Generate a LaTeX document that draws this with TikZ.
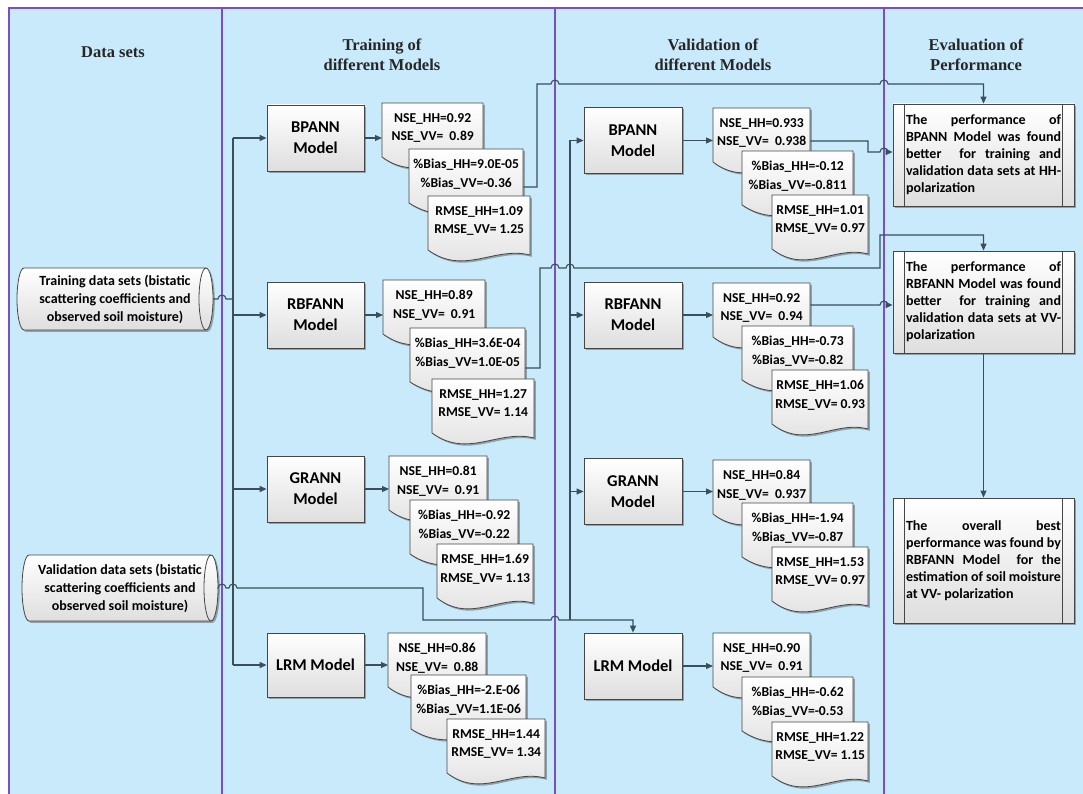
\documentclass[tikz,border=0pt]{standalone}
\usepackage{fontspec}
\setmainfont{Carlito}
\newfontfamily\headfont{Liberation Serif}
\usetikzlibrary{arrows.meta,shadows}

\definecolor{lanefill}{RGB}{201,234,250}
\definecolor{laneedge}{RGB}{123,79,196}
\definecolor{wirecol}{RGB}{58,78,92}
\definecolor{edgecol}{RGB}{70,70,70}
\definecolor{shadelo}{RGB}{222,222,222}

\tikzset{
  lanerule/.style={draw=laneedge, line width=2.2pt},
  heading/.style={font=\headfont\bfseries\fontsize{16.5}{19.5}\selectfont, align=center, text=black!85},
  wire/.style={draw=wirecol, line width=1.1pt},
  arr/.style={wire, -{Triangle[length=7pt,width=6pt]}},
  softshadow/.style={drop shadow={shadow xshift=1.8pt, shadow yshift=-1.8pt, opacity=0.3, fill=black}},
  procbox/.style={draw=edgecol, line width=0.8pt, top color=white, bottom color=shadelo, softshadow,
    minimum width=97pt, minimum height=66pt, align=center, inner sep=0pt,
    font=\bfseries\fontsize{16.5}{21}\selectfont},
  docpath/.style={draw=edgecol, line width=0.8pt, top color=white, bottom color=shadelo, softshadow},
  doctext/.style={inner sep=0pt, align=center, anchor=north west, font=\bfseries\fontsize{13.6}{18.5}\selectfont},
  cylpath/.style={draw=edgecol, line width=0.8pt, top color=white, bottom color=shadelo, softshadow},
  cyltext/.style={inner sep=0pt, align=center, font=\bfseries\fontsize{14}{18}\selectfont},
  evalbox/.style={draw=edgecol, line width=0.8pt, top color=white, bottom color=shadelo, softshadow,
    minimum width=181pt, inner sep=0pt, align=left, font=\bfseries\fontsize{14}{17}\selectfont},
}

% document shape: name, left x, right x, top y, text
\newcommand\docbox[5]{%
  \pgfmathsetmacro\dwid{#3-#2}%
  \path[docpath] (#2,#4) -- (#3,#4) -- ({#3},{#4+59})
    .. controls ({#3-0.35*\dwid},{#4+50}) and ({#2+0.35*\dwid},{#4+80}) .. ({#2},{#4+54}) -- cycle;
  \node[doctext, minimum width=\dwid pt, minimum height=50pt] (#1) at (#2,#4) {#5};
}
% lines of an evaluation box: spread to full width, or left aligned
\newcommand\spreadline[1]{\makebox[155pt][s]{#1}}
\newcommand\lastline[1]{\makebox[155pt][l]{#1}}

\begin{document}
\begin{tikzpicture}[x=1pt,y=-1pt]
\useasboundingbox (0,0) rectangle (1083,794);
\fill[white] (0,0) rectangle (1083,794);
\fill[lanefill] (9,8) rectangle (1083,794);

% lane rules
\draw[lanerule] (1083,8) -- (9,8) -- (9,794);
\draw[lanerule] (222,8) -- (222,794);
\draw[lanerule] (555,8) -- (555,794);
\draw[lanerule] (884,8) -- (884,794);

% headings
\node[heading] (hd1) at (113,52) {Data sets};
\node[heading] (hd2) at (382,55) {Training of\\different Models};
\node[heading] (hd3) at (713,55) {Validation of\\different Models};
\node[heading] (hd4) at (976,55) {Evaluation of\\Performance};

% data stores
\path[cylpath] (24,268) -- (206,268) arc[start angle=90,end angle=-90,x radius=7pt,y radius=31pt]
  -- (24,330) arc[start angle=270,end angle=90,x radius=7pt,y radius=31pt] -- cycle;
\draw[edgecol, line width=0.8pt] (206,268) arc[start angle=90,end angle=270,x radius=7pt,y radius=31pt];
\node[cyltext, minimum width=196pt, minimum height=62pt] (trdata) at (115,299)
  {Training data sets (bistatic\\scattering coefficients and\\observed soil moisture)};

\path[cylpath] (29,555) -- (211,555) arc[start angle=90,end angle=-90,x radius=7pt,y radius=33pt]
  -- (29,621) arc[start angle=270,end angle=90,x radius=7pt,y radius=33pt] -- cycle;
\draw[edgecol, line width=0.8pt] (211,555) arc[start angle=90,end angle=270,x radius=7pt,y radius=33pt];
\node[cyltext, minimum width=196pt, minimum height=66pt] (vadata) at (120,588)
  {Validation data sets (bistatic\\scattering coefficients and\\observed soil moisture)};

% training models
\node[procbox] (tBP) at (315.5,138) {BPANN\\Model};
\node[procbox] (tRB) at (315.5,315) {RBFANN\\Model};
\node[procbox] (tGR) at (315.5,489) {GRANN\\Model};
\node[procbox, minimum height=64pt] (tLR) at (315.5,665) {LRM Model};

% validation models
\node[procbox, minimum width=98pt] (vBP) at (633,140.5) {BPANN\\Model};
\node[procbox, minimum width=98pt] (vRB) at (633,315) {RBFANN\\Model};
\node[procbox, minimum width=98pt] (vGR) at (633,491.5) {GRANN\\Model};
\node[procbox, minimum width=98pt] (vLR) at (633,666) {LRM Model};

% training statistics
\docbox{tBP1}{382}{483}{103}{NSE\_HH=0.92\\NSE\_VV=\ \ 0.89}
\docbox{tBP2}{409}{523}{149}{\%Bias\_HH=9.0E-05\\\%Bias\_VV=-0.36}
\docbox{tBP3}{428}{530}{196}{RMSE\_HH=1.09\\RMSE\_VV= 1.25}

\docbox{tRB1}{383}{485}{280}{NSE\_HH=0.89\\NSE\_VV=\ \ 0.91}
\docbox{tRB2}{410}{525}{328}{\%Bias\_HH=3.6E-04\\\%Bias\_VV=1.0E-05}
\docbox{tRB3}{432}{534}{379}{RMSE\_HH=1.27\\RMSE\_VV= 1.14}

\docbox{tGR1}{389}{487}{456}{NSE\_HH=0.81\\NSE\_VV=\ \ 0.91}
\docbox{tGR2}{410}{518}{500}{\%Bias\_HH=-0.92\\\%Bias\_VV=-0.22}
\docbox{tGR3}{437}{533}{544}{RMSE\_HH=1.69\\RMSE\_VV= 1.13}

\docbox{tLR1}{388}{486}{633}{NSE\_HH=0.86\\NSE\_VV=\ \ 0.88}
\docbox{tLR2}{411}{526}{675}{\%Bias\_HH=-2.E-06\\\%Bias\_VV=1.1E-06}
\docbox{tLR3}{447}{545}{719}{RMSE\_HH=1.44\\RMSE\_VV= 1.34}

% validation statistics
\docbox{vBP1}{713}{810}{108}{NSE\_HH=0.933\\NSE\_VV=\ \ 0.938}
\docbox{vBP2}{742}{853}{151}{\%Bias\_HH=-0.12\\\%Bias\_VV=-0.811}
\docbox{vBP3}{772}{868}{195}{RMSE\_HH=1.01\\RMSE\_VV= 0.97}

\docbox{vRB1}{713}{810}{283}{NSE\_HH=0.92\\NSE\_VV=\ \ 0.94}
\docbox{vRB2}{742}{853}{326}{\%Bias\_HH=-0.73\\\%Bias\_VV=-0.82}
\docbox{vRB3}{772}{868}{370}{RMSE\_HH=1.06\\RMSE\_VV= 0.93}

\docbox{vGR1}{713}{810}{460}{NSE\_HH=0.84\\NSE\_VV=\ \ 0.937}
\docbox{vGR2}{742}{853}{503}{\%Bias\_HH=-1.94\\\%Bias\_VV=-0.87}
\docbox{vGR3}{772}{868}{547}{RMSE\_HH=1.53\\RMSE\_VV= 0.97}

\docbox{vLR1}{713}{810}{633}{NSE\_HH=0.90\\NSE\_VV=\ \ 0.91}
\docbox{vLR2}{742}{853}{677}{\%Bias\_HH=-0.62\\\%Bias\_VV=-0.53}
\docbox{vLR3}{772}{868}{722}{RMSE\_HH=1.22\\RMSE\_VV= 1.15}

% evaluation boxes
\node[evalbox, minimum height=102pt] (e1) at (983.5,155) {%
  \spreadline{The performance of}\\\spreadline{BPANN Model was found}\\\spreadline{better\ \ for training and}\\%
  \spreadline{validation data sets at HH-}\\\lastline{polarization}};
\node[evalbox, minimum height=102pt] (e2) at (983.5,302) {%
  \spreadline{The performance of}\\\spreadline{RBFANN Model was found}\\\spreadline{better\ \ for training and}\\%
  \spreadline{validation data sets at VV-}\\\lastline{polarization}};
\node[evalbox, minimum height=125pt] (e3) at (983.5,560.5) {%
  \spreadline{The overall best}\\\spreadline{performance was found by}\\\spreadline{RBFANN Model\ \ for the}\\%
  \spreadline{estimation of soil moisture}\\\lastline{at VV- polarization}};
\foreach \e in {e1,e2,e3} {
  \draw[edgecol, line width=0.8pt] ([xshift=12pt]\e.north west) -- ([xshift=12pt]\e.south west);
  \draw[edgecol, line width=0.8pt] ([xshift=-12pt]\e.north east) -- ([xshift=-12pt]\e.south east);
}

% bus lines
\coordinate (tbus) at (233,0);
\coordinate (vbus) at (570,0);
\draw[wire] (tbus |- tBP.west) -- (tbus |- tLR.west);
\foreach \m in {tBP,tRB,tGR,tLR} \draw[arr] (tbus |- \m.west) -- (\m.west);
\coordinate (vbend) at (570,620);
\draw[wire] (vbend) -- (vbus |- vBP.west);
\foreach \m in {vBP,vRB,vGR} \draw[arr] (vbus |- \m.west) -- (\m.west);

% model to statistics
\foreach \m in {tBP,tRB,tGR,tLR,vBP,vRB,vGR,vLR} \draw[arr] (\m.east) -- (\m.east -| \m1.west);

% data inputs
\draw[wire] (trdata.east) -- (218,299) arc[start angle=180,end angle=0,radius=4pt] -- (tbus |- trdata.east);
\coordinate (vd1) at (423,588);
\coordinate (vd2) at (423,620);
\draw[arr] (vadata.east) -- (218,588) arc[start angle=180,end angle=0,radius=4pt]
  -- (229,588) arc[start angle=180,end angle=0,radius=4pt] -- (vd1) -- (vd2)
  -- (551,620) arc[start angle=180,end angle=0,radius=4pt] -- (vLR.north |- vd2) -- (vLR.north);

% results to evaluation
\coordinate (r1a) at (537,187);
\coordinate (r1b) at (537,84);
\draw[arr] (tBP2.east |- r1a) -- (r1a) -- (r1b)
  -- (551,84) arc[start angle=180,end angle=0,radius=4pt]
  -- (880,84) arc[start angle=180,end angle=0,radius=4pt] -- (e1.north |- r1b) -- (e1.north);

\coordinate (r2a) at (868,141);
\coordinate (r2b) at (868,152);
\draw[arr] (vBP1.east |- r2a) -- (r2a) -- (r2b)
  -- (880,152) arc[start angle=180,end angle=0,radius=4pt] -- (e1.west |- r2b);

\coordinate (r3a) at (540,368);
\coordinate (r3b) at (540,268);
\coordinate (r3c) at (880,268);
\coordinate (r3d) at (880,235);
\draw[arr] (tRB2.east |- r3a) -- (r3a) -- (r3b)
  -- (551,268) arc[start angle=180,end angle=0,radius=4pt]
  -- (566,268) arc[start angle=180,end angle=0,radius=4pt] -- (r3c) -- (r3d)
  -- (e2.north |- r3d) -- (e2.north);

\coordinate (r4a) at (868,305);
\draw[arr] (vRB1.east |- r4a)
  -- (880,305) arc[start angle=180,end angle=0,radius=4pt] -- (e2.west |- r4a);

\draw[arr] (e2.south) -- (e3.north);
\end{tikzpicture}
\end{document}
